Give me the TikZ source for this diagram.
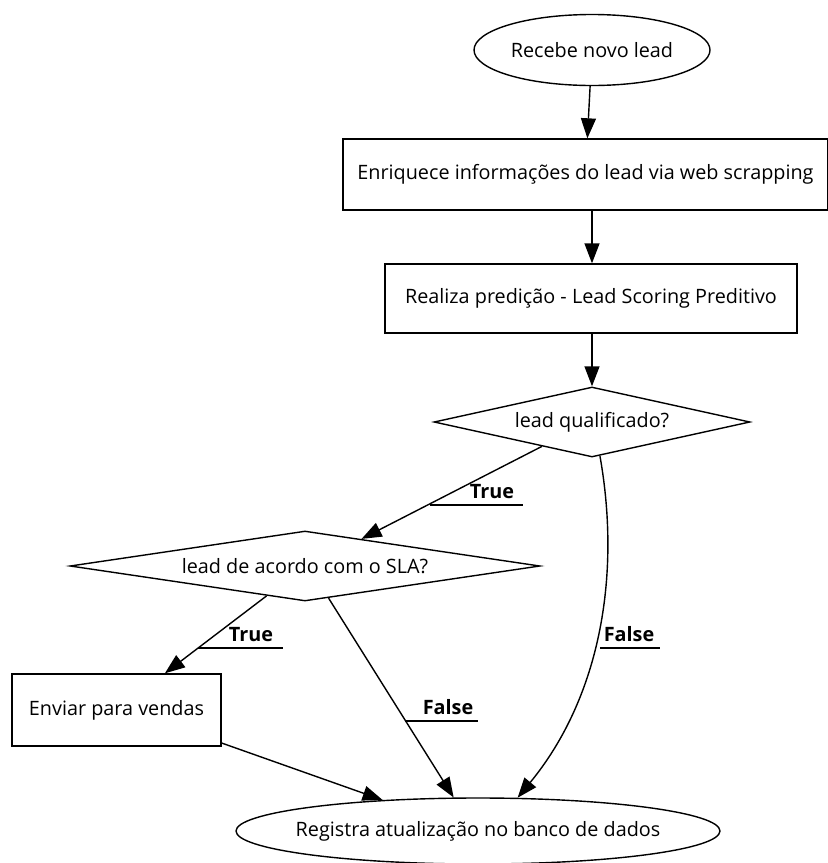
\documentclass[tikz,border=0pt]{standalone}
\usepackage{fontspec}
\setmainfont{Open Sans}
\usetikzlibrary{shapes.geometric,arrows.meta,calc}
\begin{document}
\begin{tikzpicture}[x=1pt,y=-1pt,
  font=\fontsize{19.8}{24}\selectfont,
  every path/.style={line width=1.4pt},
  terminal/.style={draw,ellipse,inner sep=0pt},
  process/.style={draw,rectangle,inner sep=0pt},
  decision/.style={draw,diamond,inner sep=0pt},
  flow/.style={-{Triangle[length=20pt,width=15pt]}},
  tag/.style={font=\fontsize{19.8}{24}\selectfont\bfseries,inner sep=0pt}]
\useasboundingbox (0,0) rectangle (828,863);

% nodes
\node[terminal,minimum width=236pt,minimum height=71pt] (start) at (592,50) {\makebox[0pt]{Recebe novo lead}};
\node[process,minimum width=485pt,minimum height=71pt] (enrich) at (585.5,174.5) {Enriquece informações do lead via web scrapping};
\node[process,minimum width=412pt,minimum height=69pt] (score) at (591,298.5) {Realiza predição - Lead Scoring Preditivo};
\node[decision,aspect=4.514,minimum width=316pt,minimum height=70pt] (qual) at (592,422) {lead qualificado?};
\node[decision,aspect=6.714,minimum width=470pt,minimum height=70pt] (sla) at (305,566) {lead de acordo com o SLA?};
\node[process,minimum width=209pt,minimum height=72pt] (sales) at (116.5,710) {Enviar para vendas};
\node[terminal,minimum width=484pt,minimum height=66pt] (db) at (478,831) {\makebox[0pt]{Registra atualização no banco de dados}};

% straight chain
\draw[flow] (start) -- (enrich);
\draw[flow] (enrich.south -| start) -- (score.north -| start);
\draw[flow] (score.south -| qual) -- (qual.north);

% branches
\draw[flow] ($(qual.south)!0.316!(qual.west)$) -- ($(sla.north)!0.24!(sla.east)$);
\draw[flow] ($(qual.south)!0.05!(qual.east)$) .. controls (622,580) and (598,700) .. (db.40.6);
\draw[flow] ($(sla.south)!0.163!(sla.west)$) -- ($(sales.north west)!0.73!(sales.north east)$);
\draw[flow] ($(sla.south)!0.1!(sla.east)$) -- (db.126.6);
\draw[flow] ($(sales.east)!0.9!(sales.south east)$) -- (db.162.5);

% branch labels with underlines
\node[tag,anchor=base] (t1) at (492,498) {True};
\coordinate (t1a) at (430,505); \coordinate (t1b) at (523,505);
\draw (t1a) -- (t1b);
\node[tag,anchor=base] (t2) at (251,641) {True};
\coordinate (t2a) at (198,648); \coordinate (t2b) at (283,648);
\draw (t2a) -- (t2b);
\node[tag,anchor=base] (f1) at (629,641) {False};
\coordinate (f1a) at (600,648); \coordinate (f1b) at (660,648);
\draw (f1a) -- (f1b);
\node[tag,anchor=base] (f2) at (448,714) {False};
\coordinate (f2a) at (405,721); \coordinate (f2b) at (478,721);
\draw (f2a) -- (f2b);
\end{tikzpicture}
\end{document}
